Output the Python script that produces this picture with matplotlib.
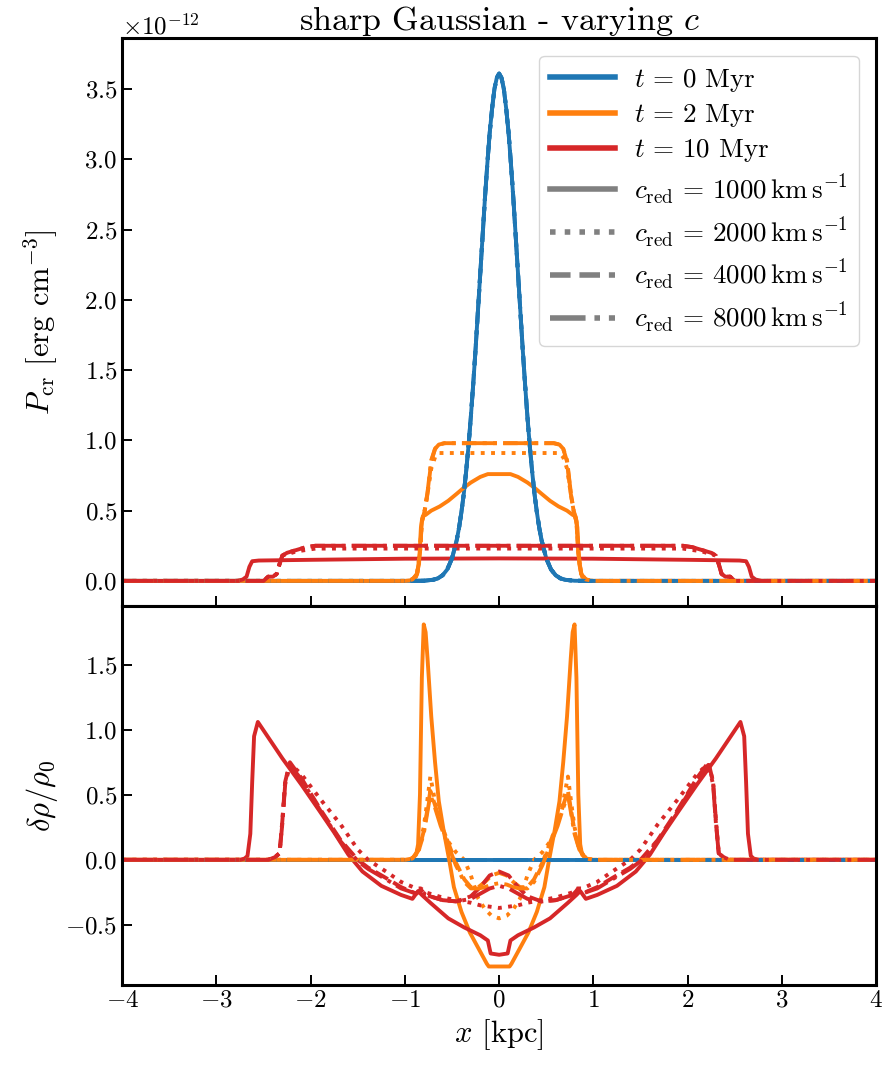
import numpy as np
import matplotlib
matplotlib.use("Agg")
from matplotlib import pyplot as plt
from matplotlib.lines import Line2D

plt.rcParams["font.family"] = "serif"
plt.rcParams["font.serif"] = ["cmr10", "DejaVu Serif"]
plt.rcParams["mathtext.fontset"] = "cm"
plt.rcParams["axes.formatter.use_mathtext"] = True
plt.rcParams["font.size"] = 18

times = [0, 2, 10]
c_red = [1000, 2000, 4000, 8000]
colors = ["C0", "C1", "C3"]
styles = ["-", ":", "--", "-."]

# profiles are symmetric in x, only the left half (x <= 0) is listed
# --- top panel: P_cr [1e-12 erg cm^-3] ---
x_p_t0 = [-4.0, -1.0, -0.8, -0.7, -0.65, -0.6, -0.55, -0.5, -0.45, -0.425, -0.4, -0.375, -0.35, -0.325,
          -0.3, -0.275, -0.25, -0.225, -0.2, -0.175, -0.15, -0.125, -0.1, -0.075, -0.05, -0.025, 0.0]
p_t0 = [0.0, 0.0, 0.001, 0.008, 0.018, 0.04, 0.082, 0.16, 0.29, 0.38, 0.49, 0.62, 0.78, 0.96,
        1.17, 1.40, 1.65, 1.92, 2.19, 2.46, 2.73, 2.97, 3.19, 3.36, 3.50, 3.58, 3.61]

x_p_t2_c1 = [-4.0, -1.0, -0.93, -0.88, -0.85, -0.83, -0.81, -0.78, -0.72, -0.63, -0.54, -0.45, -0.38, -0.3, -0.2, -0.12, 0.0]
p_t2_c1 = [0.0, 0.0, 0.005, 0.03, 0.12, 0.38, 0.46, 0.47, 0.5, 0.53, 0.57, 0.62, 0.66, 0.7, 0.74, 0.76, 0.76]

x_p_t2 = [-4.0, -1.0, -0.92, -0.87, -0.84, -0.82, -0.79, -0.76, -0.72, -0.68, -0.64, -0.58, 0.0]
p_t2_c2 = [0.0, 0.0, 0.01, 0.05, 0.2, 0.42, 0.5, 0.62, 0.8, 0.88, 0.91, 0.91, 0.91]
p_t2_c4 = [0.0, 0.0, 0.01, 0.05, 0.2, 0.42, 0.5, 0.62, 0.85, 0.94, 0.97, 0.98, 0.98]
p_t2_c8 = [0.0, 0.0, 0.01, 0.05, 0.2, 0.43, 0.5, 0.63, 0.86, 0.94, 0.97, 0.98, 0.98]

x_p_t10_c1 = [-4.0, -2.78, -2.72, -2.68, -2.65, -2.62, -2.55, -2.0, -1.0, 0.0]
p_t10_c1 = [0.0, 0.0, 0.01, 0.03, 0.1, 0.14, 0.145, 0.15, 0.158, 0.16]

x_p_t10 = [-4.0, -2.5, -2.45, -2.4, -2.36, -2.33, -2.3, -2.25, -2.15, -2.05, -1.95, 0.0]
p_t10_c2 = [0.0, 0.0, 0.03, 0.03, 0.05, 0.12, 0.18, 0.19, 0.21, 0.22, 0.23, 0.23]
p_t10_c4 = [0.0, 0.0, 0.03, 0.03, 0.05, 0.12, 0.18, 0.2, 0.22, 0.24, 0.25, 0.25]
p_t10_c8 = [0.0, 0.0, 0.03, 0.03, 0.05, 0.12, 0.18, 0.2, 0.22, 0.24, 0.25, 0.25]

# --- bottom panel: delta rho / rho0 ---
x_d_t0 = [-4.0, 0.0]
d_t0 = [0.0, 0.0]

x_d_t2_c1 = [-4.0, -1.0, -0.92, -0.88, -0.86, -0.84, -0.82, -0.8, -0.78, -0.76, -0.72, -0.68, -0.64,
             -0.59, -0.53, -0.48, -0.4, -0.31, -0.22, -0.13, -0.11, 0.0]
d_t2_c1 = [0.0, 0.0, 0.01, 0.04, 0.12, 0.5, 1.4, 1.81, 1.75, 1.55, 1.1, 0.75, 0.45,
           0.23, 0.0, -0.21, -0.4, -0.56, -0.68, -0.8, -0.82, -0.82]

x_d_t2 = [-4.0, -1.0, -0.92, -0.85, -0.8, -0.77, -0.73, -0.68, -0.62, -0.55, -0.46, -0.37, -0.3, -0.22, -0.15, -0.08, 0.0]
d_t2_c2 = [0.0, 0.0, 0.01, 0.1, 0.25, 0.41, 0.64, 0.45, 0.28, 0.15, 0.06, 0.0, -0.12, -0.3, -0.38, -0.43, -0.45]
d_t2_c4 = [0.0, 0.0, 0.01, 0.08, 0.22, 0.35, 0.53, 0.42, 0.28, 0.15, -0.02, -0.15, -0.21, -0.21, -0.17, -0.12, -0.1]
d_t2_c8 = [0.0, 0.0, 0.01, 0.08, 0.2, 0.33, 0.5, 0.4, 0.26, 0.13, -0.04, -0.17, -0.22, -0.22, -0.21, -0.19, -0.18]

x_d_t10_c1 = [-4.0, -2.75, -2.7, -2.67, -2.64, -2.62, -2.6, -2.56, -2.3, -2.1, -1.9, -1.75, -1.6, -1.45,
              -1.25, -1.04, -0.92, -0.86, -0.82, -0.73, -0.54, -0.37, -0.2, -0.12, -0.09, 0.0]
d_t10_c1 = [0.0, 0.0, 0.01, 0.03, 0.2, 0.6, 0.95, 1.06, 0.78, 0.58, 0.37, 0.21, 0.04, -0.09,
            -0.2, -0.27, -0.3, -0.24, -0.27, -0.33, -0.45, -0.52, -0.58, -0.62, -0.72, -0.73]

x_d_t10 = [-4.0, -2.45, -2.38, -2.33, -2.3, -2.27, -2.22, -2.1, -1.89, -1.68, -1.5, -1.39, -1.2,
           -1.04, -0.88, -0.83, -0.78, -0.6, -0.45, -0.3, -0.2, -0.1, 0.0]
d_t10_c2 = [0.0, 0.0, 0.02, 0.05, 0.3, 0.6, 0.74, 0.66, 0.46, 0.27, 0.08, 0.0, -0.09,
            -0.17, -0.22, -0.22, -0.25, -0.29, -0.31, -0.33, -0.35, -0.36, -0.37]
d_t10_c4 = [0.0, 0.0, 0.02, 0.05, 0.3, 0.6, 0.75, 0.63, 0.38, 0.15, 0.0, -0.06, -0.14,
            -0.21, -0.26, -0.23, -0.27, -0.31, -0.32, -0.28, -0.21, -0.12, -0.09]
d_t10_c8 = [0.0, 0.0, 0.02, 0.05, 0.28, 0.58, 0.73, 0.62, 0.37, 0.14, -0.01, -0.07, -0.15,
            -0.22, -0.26, -0.23, -0.27, -0.31, -0.32, -0.3, -0.26, -0.22, -0.2]


def mirror(xh, yh):
    xh = np.asarray(xh, dtype=float)
    yh = np.asarray(yh, dtype=float)
    return np.concatenate([xh, -xh[-2::-1]]), np.concatenate([yh, yh[-2::-1]])


# [time][c] -> (x, y)
top = [
    [(x_p_t0, p_t0)] * 4,
    [(x_p_t2_c1, p_t2_c1), (x_p_t2, p_t2_c2), (x_p_t2, p_t2_c4), (x_p_t2, p_t2_c8)],
    [(x_p_t10_c1, p_t10_c1), (x_p_t10, p_t10_c2), (x_p_t10, p_t10_c4), (x_p_t10, p_t10_c8)],
]
bottom = [
    [(x_d_t0, d_t0)] * 4,
    [(x_d_t2_c1, d_t2_c1), (x_d_t2, d_t2_c2), (x_d_t2, d_t2_c4), (x_d_t2, d_t2_c8)],
    [(x_d_t10_c1, d_t10_c1), (x_d_t10, d_t10_c2), (x_d_t10, d_t10_c4), (x_d_t10, d_t10_c8)],
]

fig, (ax1, ax2) = plt.subplots(2, 1, figsize=(8.85, 10.68), dpi=100, sharex=True,
                               gridspec_kw={"height_ratios": [3, 2], "hspace": 0})
fig.subplots_adjust(left=0.138, right=0.99, top=0.964, bottom=0.078)

lw = 2.8
for j, c in enumerate(c_red):
    for i, t in enumerate(times):
        x, y = mirror(*top[i][j])
        ax1.plot(x, y * 1e-12, color=colors[i], ls=styles[j], lw=lw)
        x, y = mirror(*bottom[i][j])
        ax2.plot(x, y, color=colors[i], ls=styles[j], lw=lw)

ax1.set_ylim(-0.18e-12, 3.86e-12)
ax1.set_yticks(np.arange(0, 3.6, 0.5) * 1e-12)
ax2.set_ylim(-0.96, 1.95)
ax2.set_yticks([-0.5, 0.0, 0.5, 1.0, 1.5])
ax2.set_xlim(-4, 4)
ax2.set_xticks(range(-4, 5))

for ax in (ax1, ax2):
    ax.tick_params(direction="in", length=7, width=1.4)
    for s in ax.spines.values():
        s.set_linewidth(2.2)

ax1.set_title("sharp Gaussian - varying $c$", fontsize=24.5, pad=5)
ax1.set_ylabel(r"$P_{\rm cr}$ [erg cm$^{-3}$]", fontsize=22)
ax2.set_ylabel(r"$\delta\rho/\rho_0$", fontsize=22)
ax2.set_xlabel(r"$x$ [kpc]", fontsize=22)
fig.align_ylabels([ax1, ax2])

handles = [Line2D([], [], color=colors[i], lw=4) for i in range(3)]
labels = [f"$t\\,=\\,{t}$ Myr" for t in times]
handles += [Line2D([], [], color="gray", ls=s, lw=4) for s in styles]
labels += [rf"$c_{{\rm red}}\,=\,{c}\,{{\rm km\,s^{{-1}}}}$" for c in c_red]
ax1.legend(handles, labels, loc="upper right", fontsize=19.5, handlelength=2.4,
           labelspacing=0.3, borderaxespad=0.65, handletextpad=0.7)

plt.savefig("out.png")
